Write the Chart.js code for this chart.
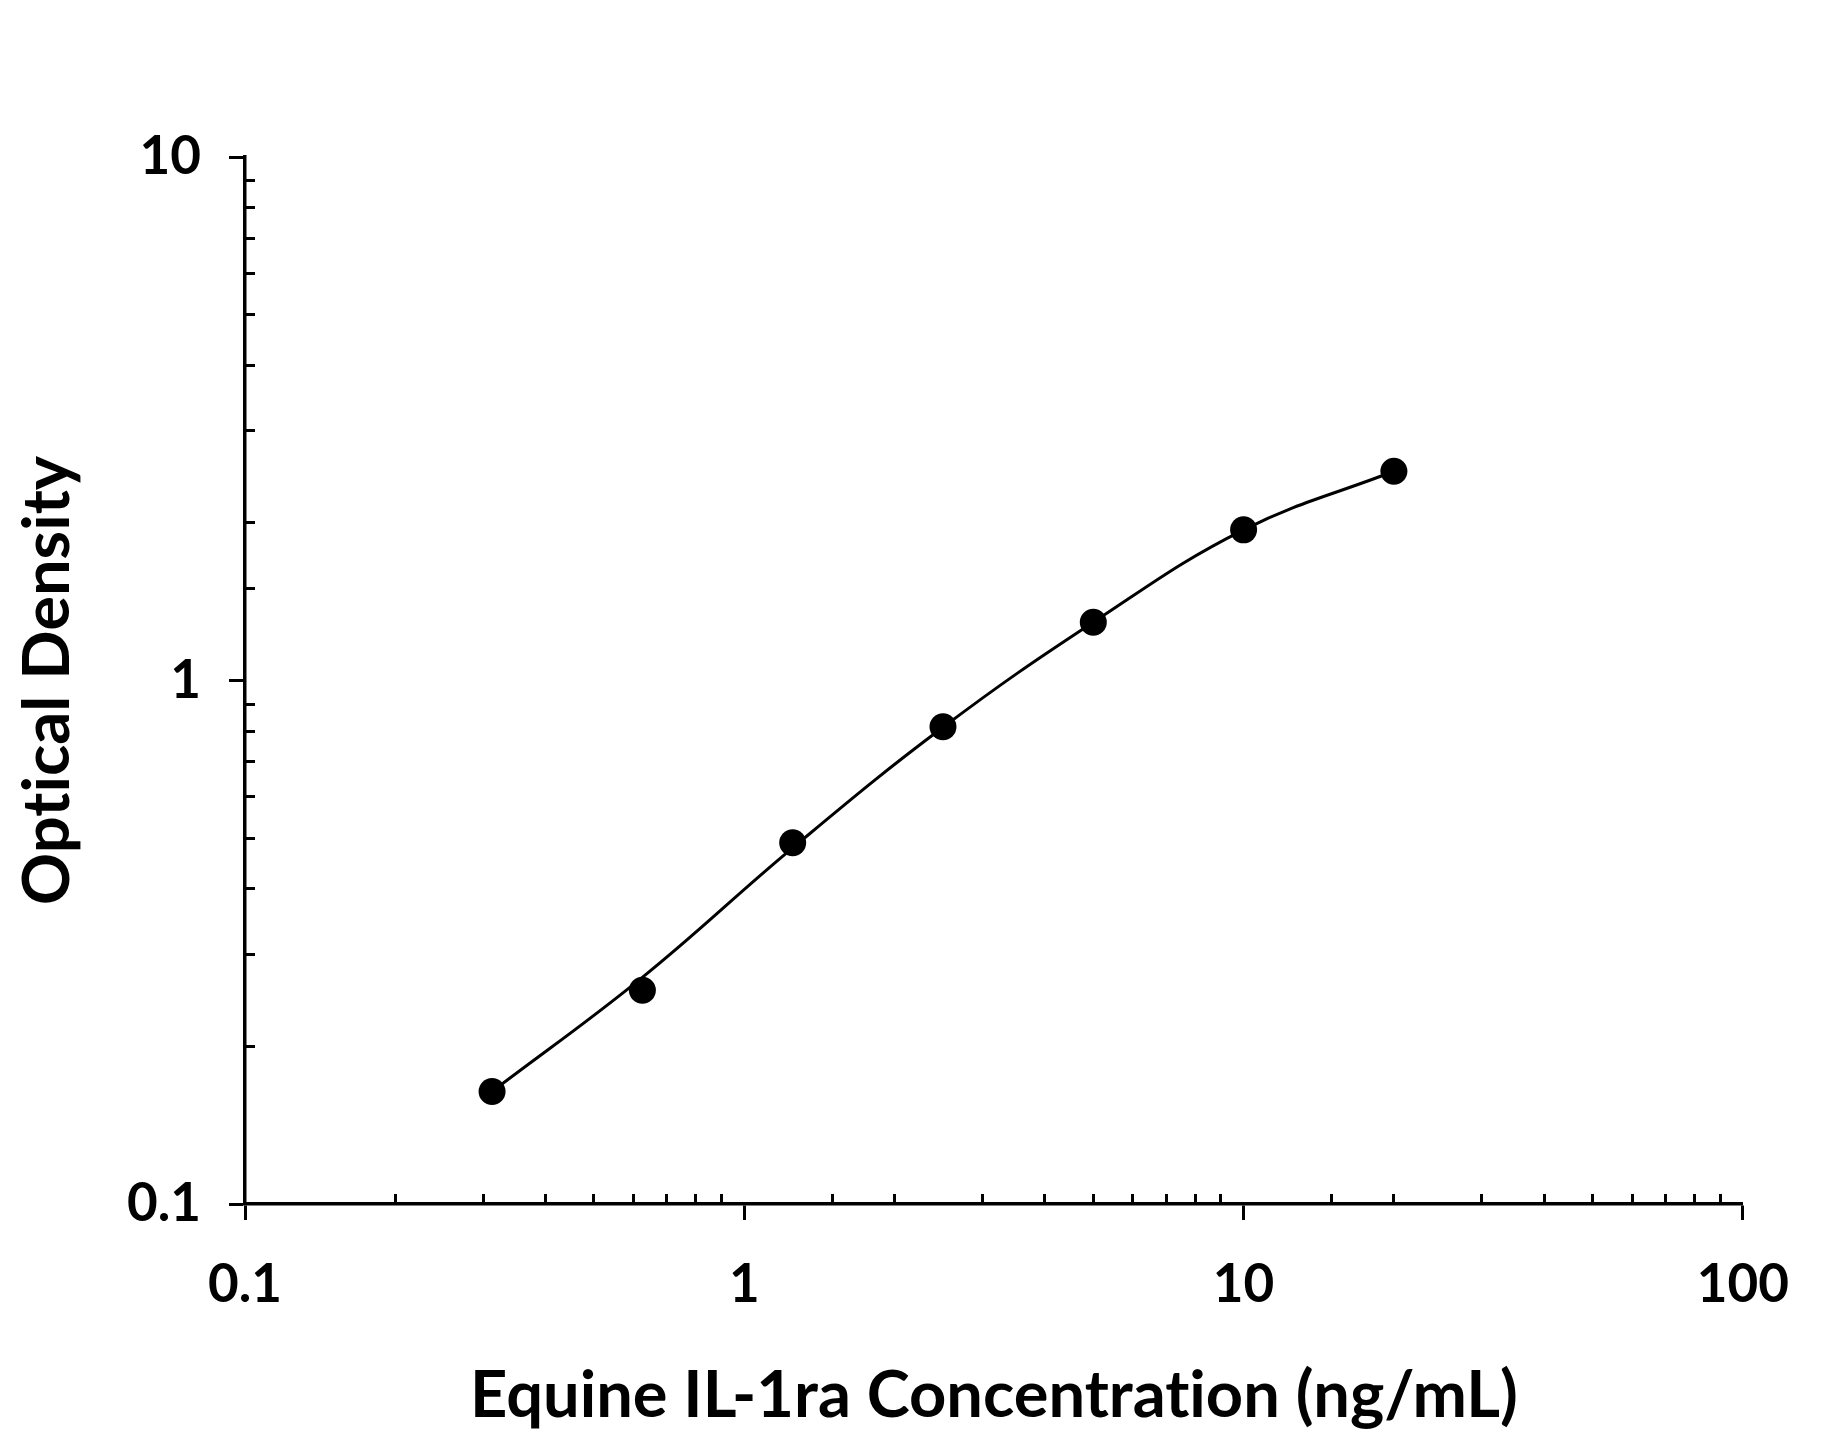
<!DOCTYPE html>
<html>
<head>
<meta charset="utf-8">
<script src="https://cdn.jsdelivr.net/npm/chart.js@4.4.1/dist/chart.umd.min.js"></script>
<style>
  html, body { margin: 0; padding: 0; background: #fff; }
  #wrap { width: 1827px; height: 1444px; position: relative; }
</style>
</head>
<body>
<div id="wrap"><canvas id="c"></canvas></div>
<script>
// ---- data ----
const concentrations = [0.3125, 0.625, 1.25, 2.5, 5, 10, 20];
// measured points (dots)
const opticalDensity = [0.164, 0.256, 0.490, 0.816, 1.292, 1.940, 2.510];
// fitted curve at the same concentrations
const curveOD = [0.164, 0.271, 0.479, 0.814, 1.292, 1.940, 2.510];
const xRange = [0.1, 100];
const yRange = [0.1, 10];
const xTitle = 'Equine IL-1ra Concentration (ng/mL)';
const yTitle = 'Optical Density';

const FONT = 'Lato, "Open Sans", "Noto Sans", sans-serif';
const BLACK = '#000';
const CLEAR = 'rgba(0,0,0,0)';
const isMajor = v => Math.abs(Math.log10(v) - Math.round(Math.log10(v))) < 1e-6;
const fmt = v => String(Number(v.toPrecision(6)));

const points = concentrations.map((c, i) => ({ x: c, y: opticalDensity[i] }));
const curve = concentrations.map((c, i) => ({ x: c, y: curveOD[i] }));

function majorScale(pos, range, extra) {
  return Object.assign({
    type: 'logarithmic',
    position: pos,
    weight: 1,
    min: range[0],
    max: range[1],
    border: { display: true, color: BLACK, width: 3.5 },
    grid: {
      display: true,
      drawOnChartArea: false,
      drawTicks: true,
      tickLength: 16,
      tickWidth: 3,
      tickColor: ctx => (ctx.tick && isMajor(ctx.tick.value)) ? BLACK : CLEAR
    },
    ticks: {
      autoSkip: false,
      maxRotation: 0,
      minRotation: 0,
      color: BLACK,
      font: { family: FONT, size: 53, weight: 'bold', lineHeight: 1 },
      callback: v => isMajor(v) ? fmt(v) : ''
    }
  }, extra);
}

function minorScale(pos, range, afterFit) {
  return {
    type: 'logarithmic',
    position: pos,
    weight: 0,
    min: range[0],
    max: range[1],
    border: { display: false },
    grid: {
      display: true,
      drawOnChartArea: false,
      drawTicks: true,
      tickLength: -10,
      tickWidth: 3,
      tickColor: ctx => (ctx.tick && !isMajor(ctx.tick.value)) ? BLACK : CLEAR
    },
    ticks: {
      autoSkip: false,
      maxRotation: 0,
      minRotation: 0,
      font: { family: FONT, size: 10, lineHeight: 1 },
      callback: () => ''
    },
    afterFit: afterFit
  };
}

const xMajor = majorScale('bottom', xRange, {
  title: {
    display: true, text: xTitle, color: BLACK,
    font: { family: FONT, size: 65, weight: 'bold', lineHeight: 1 },
    padding: { top: 0, bottom: 15 }
  },
  afterFit: s => { s.height = 240; }
});
xMajor.ticks.padding = 38;

const yMajor = majorScale('left', yRange, {
  title: {
    display: true, text: yTitle, color: BLACK,
    font: { family: FONT, size: 65, weight: 'bold', lineHeight: 1 },
    padding: { top: 16, bottom: 0 }
  },
  afterFit: s => { s.width = 245; }
});
yMajor.ticks.padding = 28;

// turn off optional ligatures (e.g. "ti") in canvas text
const noLigatures = {
  id: 'noLigatures',
  beforeInit(chart) { chart.ctx.textRendering = 'optimizeSpeed'; },
  beforeDraw(chart) { chart.ctx.textRendering = 'optimizeSpeed'; }
};

new Chart(document.getElementById('c'), {
  type: 'scatter',
  data: {
    datasets: [{
      label: 'points',
      data: points,
      xAxisID: 'x',
      yAxisID: 'y',
      showLine: false,
      backgroundColor: BLACK,
      borderColor: BLACK,
      pointRadius: 13.5,
      pointHoverRadius: 13.5,
      pointBackgroundColor: BLACK,
      pointBorderWidth: 0,
      clip: false
    }, {
      label: 'fit',
      data: curve,
      xAxisID: 'x',
      yAxisID: 'y',
      showLine: true,
      borderColor: BLACK,
      borderWidth: 3,
      tension: 0.4,
      pointRadius: 0,
      pointHoverRadius: 0,
      clip: false
    }]
  },
  options: {
    responsive: true,
    maintainAspectRatio: false,
    animation: false,
    events: [],
    layout: { padding: { top: 157, right: 81, left: 0, bottom: 0 } },
    plugins: { legend: { display: false }, tooltip: { enabled: false } },
    scales: {
      x: xMajor,
      x2: minorScale('bottom', xRange, s => { s.height = 0; }),
      y: yMajor,
      y2: minorScale('left', yRange, s => { s.width = 0; })
    }
  },
  plugins: [noLigatures]
});
</script>
</body>
</html>
